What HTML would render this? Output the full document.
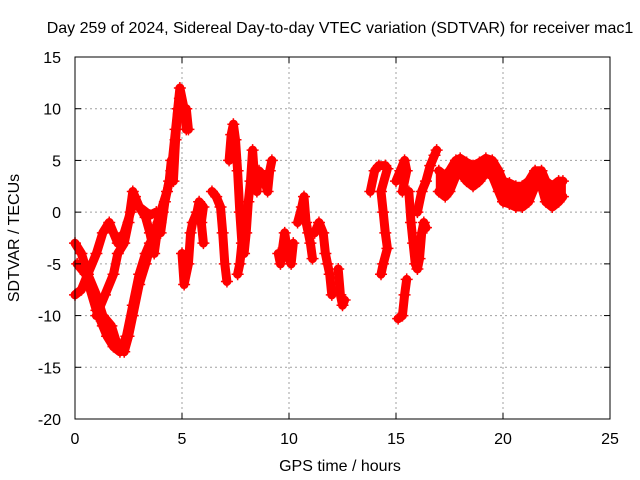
<!DOCTYPE html>
<html><head><meta charset="utf-8"><style>
body{margin:0;background:#fff;}
svg{display:block;font-family:"Liberation Sans",sans-serif;}
</style></head><body>
<svg id="chart" width="640" height="480">
<rect x="0" y="0" width="640" height="480" fill="#fff"/>
<text x="340" y="33" text-anchor="middle" font-size="16">Day 259 of 2024, Sidereal Day-to-day VTEC variation (SDTVAR) for receiver mac1</text>
<g id="grid"></g>
<g id="marks"></g>
<rect x="75" y="57" width="535" height="362" fill="none" stroke="#000" stroke-width="1"/>
<g id="ticks"></g>
<text x="340" y="471" text-anchor="middle" font-size="16">GPS time / hours</text>
<text transform="translate(19,238) rotate(-90)" text-anchor="middle" font-size="16">SDTVAR / TECUs</text>
</svg>
<script>
const xTicks=[0,5,10,15,20,25];
const yTicks=[15,10,5,0,-5,-10,-15,-20];
const segA_t=[0,0.3,0.6,1,1.3,1.7,2,2.3,2.5,2.7,3,3.3,3.7,4,4.3,4.5,4.7,4.9,5.1,5.2];
const segA_v=[-3,-4,-6,-8,-10,-11,-13,-13.5,-12,-10,-7,-5,-2,0,2,4,8,12,10,8];
const segB_t=[0,0.3,0.6,1,1.3,1.6,2,2.3,2.6,2.8,3,3.3,3.5,3.7,3.9,4.1];
const segB_v=[-8,-7.5,-6,-4,-2,-1,-3,-2,0,1.5,0.5,-0.5,-2,-4,-1,0];
const segC_t=[0.1,0.5,1,1.3,1.5,1.8,2.1,2.4,2.7,3,3.3,3.5];
const segC_v=[-5,-6,-9.5,-11,-12,-13,-13.5,-12,-9,-6,-4,-3];
const segD_t=[1,1.4,1.8,2,2.3,2.5,2.7,3,3.5,3.8,4];
const segD_v=[-10,-8,-6,-4,-3,-1,2,0.5,-0.3,0,-1];
const segE_t=[4,4.2,4.4,4.5,4.6,4.7,4.8,4.9,5,5.2,5.3];
const segE_v=[-2,1,3,5,3,7,10,11,10,10,8];
const segF_t=[5.0,5.1,5.3,5.4,5.5,5.7,5.8,6,5.9,6];
const segF_v=[-4,-7,-5,-2,-1,0,1,0.5,-1,-3];
const segG_t=[6.4,6.6,6.8,6.9,7,7.1];
const segG_v=[2,1.5,0.5,-2,-5,-6.7];
const segH_t=[7.2,7.3,7.4,7.5,7.6,7.7,7.8,7.7,7.6];
const segH_v=[5,7.5,8.5,7,4,0,-3,-5,-6];
const segI_t=[7.9,8,8.1,8.2,8.3,8.4,8.5,8.6,8.8,9,9.1,9.2];
const segI_v=[-4,-2,1,3,6,3,2,4,3.5,2,4,5];
const segJ_t=[9.5,9.6,9.8,9.9,10,10.1,10.2];
const segJ_v=[-4,-5,-2,-3.5,-4.5,-5,-3];
const segK_t=[10.4,10.6,10.7,10.8,10.9,11,11.1];
const segK_v=[-1,0.5,1.5,-1,-2,-3,-4.5];
const segL_t=[11.2,11.4,11.6,11.7,11.8,11.9,12];
const segL_v=[-2,-1,-2,-4,-5,-6,-8];
const segM_t=[12.3,12.4,12.5,12.6];
const segM_v=[-5.5,-8,-9,-8.5];
const segN_t=[13.8,14,14.2,14.5,14.6,14.3,14.4,14.5,14.6,14.4,14.3];
const segN_v=[2,4,4.5,4.5,4.2,2,0,-2,-3.5,-5,-6];
const segO_t=[15,15.2,15.4,15.5,15.3];
const segO_v=[3,4,5,4,2];
const segP_t=[15.1,15.3,15.4,15.5];
const segP_v=[-10.3,-10,-8,-6.5];
const segQ_t=[15.6,15.7,15.8,15.9,16,16.1,16.2,16.3,16.4];
const segQ_v=[2,-1,-3,-5,-5.5,-4.5,-2,-1,-1.5];
const segR_t=[16,16.2,16.4,16.6,16.8,16.9];
const segR_v=[0,2,3,4.5,5.5,6];
const bandHi_t=[17,17.3,17.5,17.8,18,18.3,18.6,18.9,19.2,19.5,19.8,20,20.3,20.6,20.9,21.2,21.5,21.8,22,22.3,22.6,22.8];
const bandHi_v=[4,3.5,4,5,5.2,4.8,4.5,4.8,5.2,5,4,3,2.8,2.5,2.5,3,4,4,3,2.5,3,3];
const bandLo_t=[17,17.3,17.5,17.8,18,18.3,18.6,18.9,19.2,19.5,19.8,20,20.3,20.6,20.9,21.2,21.5,21.8,22,22.3,22.6,22.8];
const bandLo_v=[2,1.5,2,3.5,3.8,3,2.5,3,3.8,3.5,2,1,0.8,0.5,0.5,1,2.5,2.5,1,0.5,1,1.5];
const series=[[segA_t,segA_v],[segB_t,segB_v],[segC_t,segC_v],[segD_t,segD_v],[segE_t,segE_v],[segF_t,segF_v],[segG_t,segG_v],[segH_t,segH_v],[segI_t,segI_v],[segJ_t,segJ_v],[segK_t,segK_v],[segL_t,segL_v],[segM_t,segM_v],[segN_t,segN_v],[segO_t,segO_v],[segP_t,segP_v],[segQ_t,segQ_v],[segR_t,segR_v],[bandHi_t,bandHi_v],[bandLo_t,bandLo_v]];

const X0=75,X1=610,Y0=57,Y1=419;
function xs(t){return X0+(t-0)/(25-0)*(X1-X0);}
function ys(v){return Y1-(v+20)/(35)*(Y1-Y0);}
const NS="http://www.w3.org/2000/svg";
function mk(tag,attrs,parent){const e=document.createElementNS(NS,tag);for(const k in attrs)e.setAttribute(k,attrs[k]);parent.appendChild(e);return e;}
const grid=document.getElementById('grid'),ticks=document.getElementById('ticks'),marks=document.getElementById('marks');
xTicks.forEach(t=>{const x=xs(t);
 if(t>0&&t<25){const g=mk('line',{x1:x,x2:x,y1:Y0,y2:Y1,stroke:'#a0a0a0','stroke-dasharray':'2,3'},grid);
 
 }
 mk('line',{x1:x,x2:x,y1:Y1,y2:Y1-6,stroke:'#000'},ticks);
 mk('line',{x1:x,x2:x,y1:Y0,y2:Y0+6,stroke:'#000'},ticks);
 const l=mk('text',{x:x,y:444,'text-anchor':'middle','font-size':'16'},ticks);l.textContent=t;
 
 
});
yTicks.forEach(v=>{const y=ys(v);
 if(v>-20&&v<15){const g=mk('line',{x1:X0,x2:X1,y1:y,y2:y,stroke:'#a0a0a0','stroke-dasharray':'2,3'},grid);
 
 }
 mk('line',{x1:X0,x2:X0+6,y1:y,y2:y,stroke:'#000'},ticks);
 mk('line',{x1:X1,x2:X1-6,y1:y,y2:y,stroke:'#000'},ticks);
 const l=mk('text',{x:61,y:y+6,'text-anchor':'end','font-size':'16'},ticks);l.textContent=v;
 
 
});
// filled band between hi and lo envelopes
const bandPts=bandHi_t.map((t,i)=>xs(t).toFixed(1)+','+ys(bandHi_v[i]).toFixed(1)).concat(bandLo_t.map((t,i)=>xs(t).toFixed(1)+','+ys(bandLo_v[i]).toFixed(1)).reverse()).join(' ');
const band=mk('polygon',{points:bandPts,fill:'#f00',stroke:'#f00','stroke-width':'6','stroke-linejoin':'round'},marks);


series.forEach(([T,V])=>{
 const pts=T.map((t,i)=>xs(t).toFixed(1)+','+ys(V[i]).toFixed(1)).join(' ');
 const pl=mk('polyline',{points:pts,fill:'none',stroke:'#f00','stroke-width':'9','stroke-linejoin':'round','stroke-linecap':'round'},marks);
 
 
 T.forEach((t,i)=>{const x=xs(t),y=ys(V[i]);
  const p=mk('path',{d:`M${x-6},${y}H${x+6}M${x},${y-6}V${y+6}`,stroke:'#f00','stroke-width':'1.5'},marks);
  
  
 });
});
</script>
</body></html>
